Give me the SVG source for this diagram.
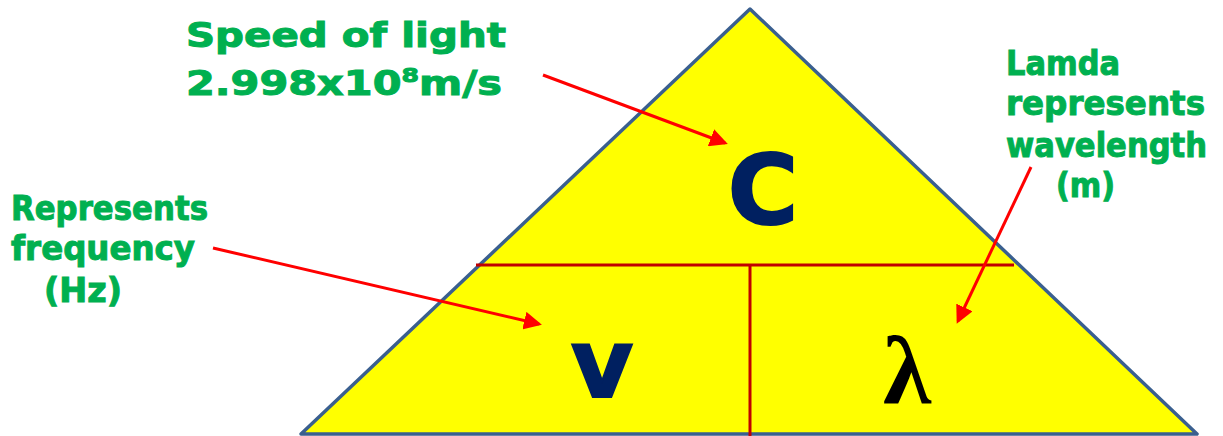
<svg xmlns="http://www.w3.org/2000/svg" width="1223" height="436" viewBox="0 0 1223 436">
<defs>
<marker id="ah" markerWidth="6" markerHeight="6" refX="5" refY="3" orient="auto" markerUnits="strokeWidth">
<path d="M0,0 L6,3 L0,6 Z" fill="#FF0000"/>
</marker>
<style>
.lbl{font-family:"DejaVu Sans",sans-serif;font-weight:bold;fill:#00B050;stroke:#00B050;stroke-width:1;font-size:33px}
.sym{font-family:"DejaVu Sans",sans-serif;font-weight:bold;fill:#002060;stroke:#002060;stroke-width:2;font-size:96px;text-anchor:middle}
.part{stroke:#C00000;stroke-width:3;fill:none}
.arr{stroke:#FF0000;stroke-width:3;fill:none;marker-end:url(#ah)}
</style>
</defs>
<rect width="1223" height="436" fill="#FFFFFF"/>
<g id="triangle">
<polygon points="750,9 1197,434 301,434" fill="#FFFF00" stroke="#3A5F8F" stroke-width="3.5" stroke-linejoin="round"/>
<line class="part" x1="476" y1="265" x2="1014" y2="265"/>
<line class="part" x1="750" y1="265" x2="750" y2="436"/>
</g>
<g id="node-c"><text class="sym" x="763" y="224">C</text></g>
<g id="node-v"><text class="sym" x="602" y="397">v</text></g>
<g id="node-lambda"><text x="907" y="404" font-family="Liberation Serif, serif" font-weight="bold" font-size="98" fill="#000000" text-anchor="middle">λ</text></g>
<g id="label-speed">
<text class="lbl" x="186" y="47" textLength="320" lengthAdjust="spacingAndGlyphs">Speed of light</text>
<text class="lbl" x="186" y="95" textLength="316" lengthAdjust="spacingAndGlyphs">2.998x10<tspan font-size="20" dy="-13">8</tspan><tspan dy="13">m/s</tspan></text>
</g>
<g id="label-lamda">
<text class="lbl" x="1006" y="75" textLength="114" lengthAdjust="spacingAndGlyphs">Lamda</text>
<text class="lbl" x="1006" y="115" textLength="199" lengthAdjust="spacingAndGlyphs">represents</text>
<text class="lbl" x="1006" y="157" textLength="201" lengthAdjust="spacingAndGlyphs">wavelength</text>
<text class="lbl" x="1056" y="197" textLength="59" lengthAdjust="spacingAndGlyphs">(m)</text>
</g>
<g id="label-freq">
<text class="lbl" x="11" y="220" textLength="197" lengthAdjust="spacingAndGlyphs">Represents</text>
<text class="lbl" x="11" y="260" textLength="184" lengthAdjust="spacingAndGlyphs">frequency</text>
<text class="lbl" x="44" y="302" textLength="78" lengthAdjust="spacingAndGlyphs">(Hz)</text>
</g>
<g id="connectors">
<line class="arr" x1="543" y1="75" x2="725" y2="143"/>
<line class="arr" x1="213" y1="248" x2="539" y2="324"/>
<line class="arr" x1="1031" y1="167" x2="958" y2="321"/>
</g>
</svg>
